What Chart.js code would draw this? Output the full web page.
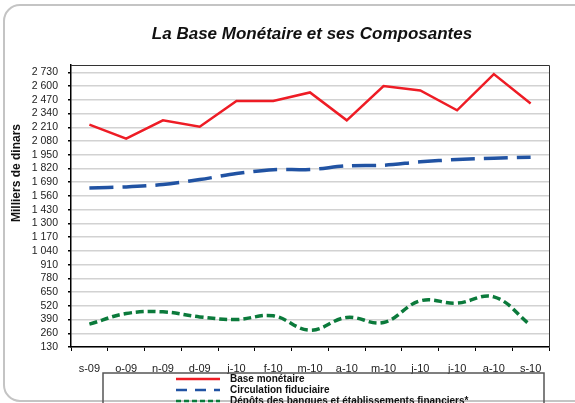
<!DOCTYPE html>
<html>
<head>
<meta charset="utf-8">
<script src="https://cdn.jsdelivr.net/npm/chart.js@4"></script>
<style>
  html, body { margin: 0; padding: 0; background: #fff; overflow: hidden; }
  #wrap { width: 575px; height: 403px; }
  canvas { display: block; }
</style>
</head>
<body>
<div id="wrap"><canvas id="baseChart" width="575" height="403"></canvas></div>
<script>
// Données (millions de dinars)
const months = ['s-09', 'o-09', 'n-09', 'd-09', 'j-10', 'f-10', 'm-10', 'a-10', 'm-10', 'j-10', 'j-10', 'a-10', 's-10'];
const baseMonetaire = [2235, 2102, 2276, 2215, 2460, 2460, 2540, 2276, 2600, 2559, 2371, 2714, 2435];
const circulation = [1636, 1646, 1668, 1715, 1772, 1808, 1811, 1845, 1851, 1883, 1905, 1918, 1927];
const depots = [346, 447, 463, 415, 390, 425, 289, 410, 362, 567, 545, 605, 336];
const seriesNames = ['Base monétaire', 'Circulation fiduciaire', 'Dépôts des banques et établissements financiers*'];
const yTicks = [130, 260, 390, 520, 650, 780, 910, 1040, 1170, 1300, 1430, 1560, 1690, 1820, 1950, 2080, 2210, 2340, 2470, 2600, 2730];

const FONT = '"Liberation Sans", Arial, sans-serif';

// frame, title, axis title, plot border and legend
const decor = {
    id: 'decor',
    beforeDraw(chart) {
        const ctx = chart.ctx;
        ctx.save();
        ctx.strokeStyle = '#c4c4c4';
        ctx.lineWidth = 2;
        ctx.beginPath();
        ctx.moveTo(575, 5);
        ctx.lineTo(20, 5);
        ctx.arcTo(4, 5, 4, 21, 16);
        ctx.lineTo(4, 385);
        ctx.arcTo(4, 401, 20, 401, 16);
        ctx.lineTo(575, 401);
        ctx.stroke();
        ctx.restore();
    },
    afterDraw(chart) {
        const ctx = chart.ctx;
        const a = chart.chartArea;
        ctx.save();
        // plot border
        ctx.strokeStyle = '#333';
        ctx.lineWidth = 1;
        ctx.beginPath();
        ctx.moveTo(a.left, a.top + 0.5);
        ctx.lineTo(a.right + 0.5, a.top + 0.5);
        ctx.lineTo(a.right + 0.5, a.bottom);
        ctx.stroke();

        // title
        ctx.fillStyle = '#111';
        ctx.font = 'italic bold 17px ' + FONT;
        ctx.textAlign = 'center';
        ctx.textBaseline = 'middle';
        ctx.fillText('La Base Monétaire et ses Composantes', 312, 34);

        // y axis title
        ctx.save();
        ctx.translate(17, 173);
        ctx.rotate(-Math.PI / 2);
        ctx.font = 'bold 12px ' + FONT;
        ctx.fillText('Milliers de dinars', 0, 0);
        ctx.restore();

        // legend
        ctx.strokeStyle = '#555';
        ctx.lineWidth = 1.5;
        ctx.strokeRect(103, 373, 441, 40);
        const dashes = [[], [11, 8], [5, 3]];
        chart.data.datasets.forEach((ds, i) => {
            const y = 379 + i * 11;
            ctx.strokeStyle = ds.borderColor;
            ctx.lineWidth = 2.5;
            ctx.setLineDash(dashes[i]);
            ctx.beginPath();
            ctx.moveTo(176, y);
            ctx.lineTo(220, y);
            ctx.stroke();
            ctx.setLineDash([]);
            ctx.fillStyle = '#111';
            ctx.font = 'bold 10px ' + FONT;
            ctx.textAlign = 'left';
            ctx.fillText(ds.label, 230, y);
        });
        ctx.restore();
    }
};

new Chart(document.getElementById('baseChart').getContext('2d'), {
    type: 'line',
    data: {
        labels: months,
        datasets: [{
            label: seriesNames[0],
            data: baseMonetaire,
            borderColor: '#ee1c25',
            borderWidth: 2.5,
            tension: 0,
            pointRadius: 0
        }, {
            label: seriesNames[1],
            data: circulation,
            borderColor: '#2153a3',
            borderWidth: 3.5,
            borderDash: [24, 9],
            tension: 0.3,
            pointRadius: 0
        }, {
            label: seriesNames[2],
            data: depots,
            borderColor: '#0b7a3b',
            borderWidth: 3.5,
            borderDash: [8, 4],
            tension: 0.4,
            pointRadius: 0
        }]
    },
    options: {
        responsive: false,
        animation: false,
        layout: { padding: { top: 65, left: 0, right: 26, bottom: 0 } },
        plugins: { legend: { display: false }, tooltip: { enabled: false } },
        scales: {
            x: {
                offset: true,
                afterFit: s => { s.height = 56; },
                grid: { offset: true, drawOnChartArea: false, tickLength: 4, tickColor: '#000', color: '#000' },
                border: { color: '#000', width: 1.5 },
                ticks: { color: '#222', padding: 11, font: { family: FONT, size: 11 }, maxRotation: 0, autoSkip: false }
            },
            y: {
                min: 130,
                max: 2800,
                afterFit: s => { s.width = 71; },
                afterBuildTicks: s => { s.ticks = yTicks.map(v => ({ value: v })); },
                grid: { color: '#d2d2d2', lineWidth: 1.5, tickLength: 3, tickColor: '#000' },
                border: { color: '#000', width: 1.5 },
                ticks: {
                    color: '#222',
                    padding: 10,
                    autoSkip: false,
                    font: { family: FONT, size: 10.5 },
                    callback: v => String(v).replace(/\B(?=(\d{3})+(?!\d))/g, ' ')
                }
            }
        }
    },
    plugins: [decor]
});
</script>
</body>
</html>
